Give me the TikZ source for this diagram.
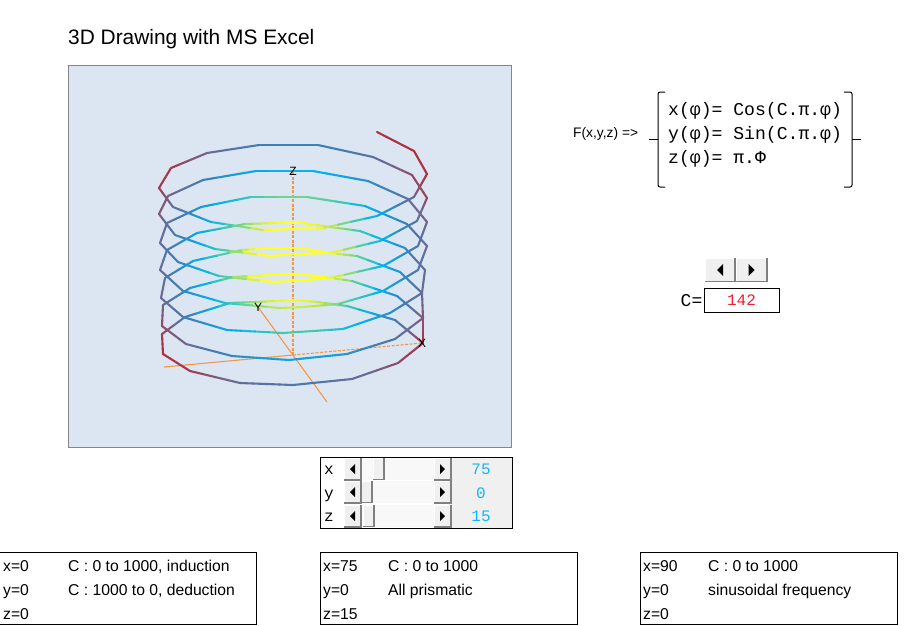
\documentclass[tikz,border=0pt]{standalone}
\usepackage{fontspec}
\setmainfont{Liberation Sans}
\setmonofont{Liberation Mono}
\usepackage{tikz}
\definecolor{plot_fill}{RGB}{220,230,242}
\definecolor{plot_edge}{RGB}{134,134,134}
\definecolor{axis_orange}{RGB}{245,150,70}
\definecolor{btn_gray}{RGB}{240,240,240}
\definecolor{btn_dark}{RGB}{128,128,128}
\definecolor{track_gray}{RGB}{248,248,248}
\definecolor{val_cyan}{RGB}{20,180,250}
\definecolor{val_red}{RGB}{235,30,50}
\definecolor{ramp_a}{RGB}{255,255,32}
\definecolor{ramp_b}{RGB}{192,232,80}
\definecolor{ramp_c}{RGB}{85,208,160}
\definecolor{ramp_d}{RGB}{0,176,240}
\definecolor{ramp_e}{RGB}{63,127,181}
\definecolor{ramp_f}{RGB}{106,106,149}
\definecolor{ramp_g}{RGB}{176,48,64}

% mix between two stops of the ramp
\newcommand{\rampmix}[5]{%
  \pgfmathsetmacro\rampp{100*(#1-#2)/(#3-#2)}%
  \colorlet{ramp}{#5!\rampp!#4}}
\newcommand{\setramp}[1]{%
  \ifdim#1pt<38pt \colorlet{ramp}{ramp_a}\else
  \ifdim#1pt<50pt \rampmix{#1}{38}{50}{ramp_a}{ramp_b}\else
  \ifdim#1pt<68pt \rampmix{#1}{50}{68}{ramp_b}{ramp_c}\else
  \ifdim#1pt<92pt \rampmix{#1}{68}{92}{ramp_c}{ramp_d}\else
  \ifdim#1pt<118pt \rampmix{#1}{92}{118}{ramp_d}{ramp_e}\else
  \ifdim#1pt<135pt \rampmix{#1}{118}{135}{ramp_e}{ramp_f}\else
  \ifdim#1pt<155pt \rampmix{#1}{135}{155}{ramp_f}{ramp_g}\else
  \colorlet{ramp}{ramp_g}\fi\fi\fi\fi\fi\fi\fi}
% name, x, y, width, height, direction (1 left, -1 right), arrow half height
\newcommand{\arrowbtn}[7]{%
  \node[btn, minimum width=#4, minimum height=#5] (#1) at (#2,#3) {};
  \draw[white] (#1.south west) -- (#1.north west) -- (#1.north east);
  \draw[btn_dark, line width=1.5] (#1.south west) -- (#1.south east) -- (#1.north east);
  \fill (#1.center) ++(-#6*#7/2,0) -- ++(#6*#7,-#7) -- ++(0,2*#7) -- cycle;}

\def\helixpts{414/151,427/174,414/197,377/216,323/228,293/229,263/230,211/222,173/207,159/188,
  171/168,207/153,259/145,318/145,373/157,412/175,427/198,417/221,380/241,330/253,297/254,270/256,
  215/249,175/235,159/214,168/196,203/180,256/171,313/171,368/181,408/199,427/222,418/246,383/266,
  330/278,293/281,273/282,219/276,178/262,160/243,167/223,201/207,251/197,307/197,365/206,407/224,
  427/246,418/270,383/291,338/304,303/307,280/308,225/303,183/291,160/270,167/250,197/233,245/224,
  277/223,303/223,330/227,360/231,405/248,425/270,422/293,390/313,343/329,283/333,227/330,183/317,
  161/298,165/278,193/261,242/250,270/248,300/248,330/253,357/256,400/272,422/293,423/318,395/339,
  347/354,289/360,232/356,186/344,162/326,163/305,190/288,233/277,293/274,317/276,352/281,397/296,
  423/318,423/343,398/363,352/379,293/385,240/383,190/371,163/354,162/334,185/317,230/303,257/302,
  293/300,317/302,347/306,395/320,423/343}

\begin{document}
\begin{tikzpicture}[x=1pt,y=-1pt]
    \tikzstyle{panel}=[draw=plot_edge, line width=1, fill=plot_fill, inner sep=0, minimum width=443, minimum height=382]
    \tikzstyle{box}=[draw=black, line width=1, fill=white, inner sep=0]
    \tikzstyle{btn}=[fill=btn_gray, inner sep=0]
    \tikzstyle{track}=[fill=track_gray, inner sep=0, minimum width=90, minimum height=22]
    \tikzstyle{sans}=[inner sep=0, anchor=base west, font=\fontsize{15.7}{17}\selectfont]
    \tikzstyle{mono}=[inner sep=0, anchor=base west, font=\ttfamily\fontsize{18.1}{20}\selectfont]
    \tikzstyle{val}=[inner sep=0, anchor=base, font=\ttfamily\fontsize{16}{18}\selectfont]
    \tikzstyle{tag}=[inner sep=0, font=\fontsize{12}{12}\selectfont]
    \tikzstyle{axis}=[axis_orange, line width=1.1]
    \useasboundingbox (0,0) rectangle (907,625);

    \node[inner sep=0, anchor=base west, font=\fontsize{20.9}{22}\selectfont] (title) at (68,44) {3D Drawing with MS Excel};
    \node[panel] (plot) at (289.5,256) {};

    % axes
    \coordinate (orig) at (293,355);
    \coordinate (xtip) at (422,343);
    \coordinate (xend) at (164,367);
    \coordinate (ytip) at (258,307);
    \coordinate (yend) at (327,402);
    \coordinate (ztip) at (293,172);
    \draw[axis, dash pattern=on 3 off 1.5] (orig) -- (ztip);
    \draw[axis, dash pattern=on 3 off 1.5] (orig) -- (xtip);
    \draw[axis] (orig) -- (xend);
    \draw[axis] (ytip) -- (yend);

    % helix, each segment cut in four for the colour ramp
    \foreach \x/\y [remember=\x as \lastx (initially 377), remember=\y as \lasty (initially 132)] in \helixpts {
      \foreach \k in {0,1,2,3} {
        \pgfmathsetmacro\xa{\lastx+(\x-\lastx)*\k/4}
        \pgfmathsetmacro\ya{\lasty+(\y-\lasty)*\k/4}
        \pgfmathsetmacro\xb{\lastx+(\x-\lastx)*(\k+1)/4}
        \pgfmathsetmacro\yb{\lasty+(\y-\lasty)*(\k+1)/4}
        \pgfmathsetmacro\dist{veclen((\xa+\xb)/2-293,(\ya+\yb)/2-260)}
        \setramp{\dist}
        \draw[ramp, line width=2.1, line cap=round] (\xa,\ya) -- (\xb,\yb);
      }
    }
    \node[tag] (xlab) at (xtip) {X};
    \node[tag] (ylab) at (ytip) {Y};
    \node[tag] (zlab) at (293,171) {Z};

    % formula
    \node[inner sep=0, anchor=base west, font=\fontsize{13.8}{14}\selectfont] (fxyz) at (573,137) {F(x,y,z) =>};
    \node[mono] (fx) at (668,115) {x(φ)= Cos(C.π.φ)};
    \node[mono] (fy) at (668,139) {y(φ)= Sin(C.π.φ)};
    \node[mono] (fz) at (668,163) {z(φ)= π.Φ};
    \coordinate (bl) at (649,139);
    \coordinate (br) at (861,139);
    \draw[line width=1, rounded corners=2] (665,92) -- (658,92) -- (658,187) -- (665,187);
    \draw[line width=1, rounded corners=2] (844,92) -- (852,92) -- (852,187) -- (844,187);
    \draw[line width=1] (bl) -- (658,139);
    \draw[line width=1] (852,139) -- (br);

    % spinner
    \arrowbtn{cleft}{720}{270}{30}{23}{1}{6}
    \arrowbtn{cright}{751.5}{270}{31}{23}{-1}{6}
    \node[box, minimum width=75, minimum height=24] (cbox) at (741.5,300) {};
    \node[val, text=val_red] (cval) at (741.5,305) {142};
    \node[val, anchor=base east, font=\ttfamily\fontsize{18}{18}\selectfont] (clab) at (702.5,306) {C=};

    % sliders
    \node[box, minimum width=192, minimum height=71] (sliders) at (416,492.5) {};
    \node[btn, minimum width=64, minimum height=70] (vals) at (480,492.5) {};
    \foreach \n/\y/\b/\t/\v in {x/469/474/378.5/75, y/492/498/366.5/0, z/516/521.5/368.5/15} {
      \node[track] (track\n) at (397,\y) {};
      \arrowbtn{thumb\n}{\t}{\y}{11}{21}{1}{0}
      \arrowbtn{left\n}{352.5}{\y}{17}{22}{1}{5}
      \arrowbtn{right\n}{442.5}{\y}{17}{22}{-1}{5}
      \node[val] (lab\n) at (329,\b) {\n};
      \node[val, text=val_cyan] (val\n) at (481,\b) {\v};
    }

    % notes
    \foreach \n/\a/\t/\p/\q/\r in {
      one/0/128/0/0/0,
      two/320/448.5/75/0/15,
      three/640/768.5/90/0/0} {
      \node[box, minimum width=257, minimum height=72] (note\n) at (\t,588.5) {};
      \node[sans] (x\n) at (\a+3,571) {x=\p};
      \node[sans] (y\n) at (\a+3,595) {y=\q};
      \node[sans] (z\n) at (\a+3,619) {z=\r};
    }
    \node[sans] (ca) at (68,571) {C : 0 to 1000, induction};
    \node[sans] (cb) at (68,595) {C : 1000 to 0, deduction};
    \node[sans] (cc) at (388,571) {C : 0 to 1000};
    \node[sans] (cd) at (388,595) {All prismatic};
    \node[sans] (ce) at (708,571) {C : 0 to 1000};
    \node[sans] (cf) at (708,595) {sinusoidal frequency};
\end{tikzpicture}
\end{document}
